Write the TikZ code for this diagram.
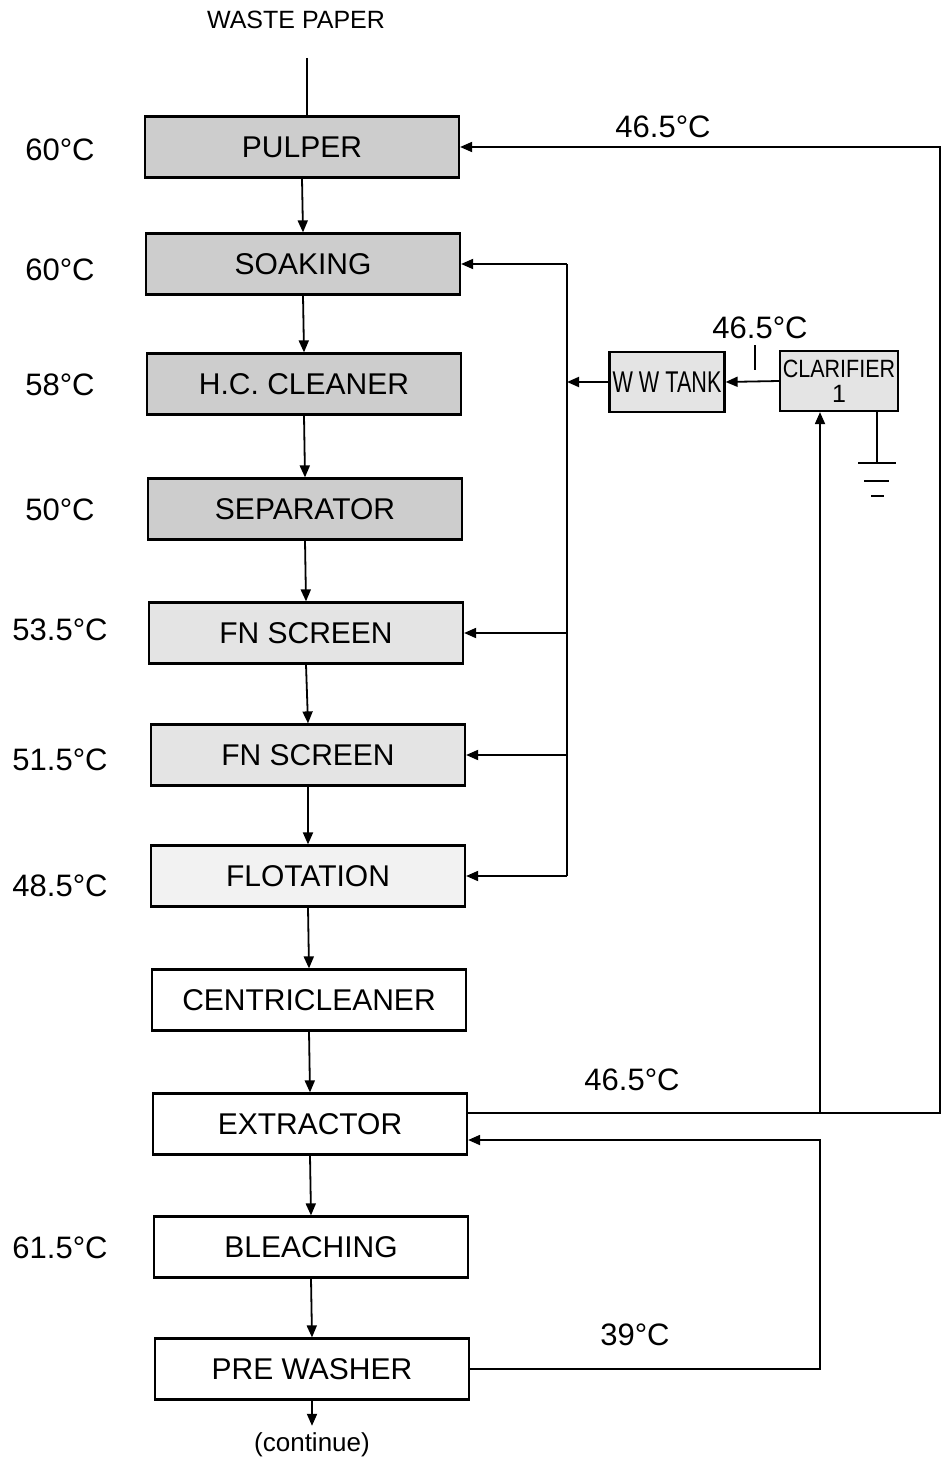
\documentclass[tikz,border=0pt]{standalone}
\usepackage{fontspec}
\setmainfont{Liberation Sans}
\usepackage{graphicx}
\usepackage{tikz}
\usetikzlibrary{arrows.meta, positioning}
\definecolor{dotgray}{RGB}{205,205,205}
\definecolor{lightdot}{RGB}{228,228,228}
\definecolor{faintdot}{RGB}{242,242,242}

\begin{document}
\begin{tikzpicture}[x=0.5pt, y=-0.5pt,
    proc/.style={draw, line width=1.1pt, minimum width=157pt, minimum height=30.5pt,
                 inner sep=0pt, font=\fontsize{15}{17}\selectfont},
    unit/.style={draw, line width=1.1pt, fill=lightdot, inner sep=0pt, minimum height=30pt},
    temp/.style={font=\fontsize{15.5}{17}\selectfont},
    flow/.style={line width=0.9pt, -{Triangle[length=6pt, width=5pt]}},
    pipe/.style={line width=0.9pt}]
  \useasboundingbox (0,0) rectangle (943,1466);

  % main line
  \foreach \n/\x/\y/\t/\f in {pulper/302/147/PULPER/dotgray,
                              soaking/303/264/SOAKING/dotgray,
                              hccleaner/304/384/H.C. CLEANER/dotgray,
                              separator/305/509/SEPARATOR/dotgray,
                              fnscreenA/306/633/FN SCREEN/lightdot,
                              fnscreenB/308/755/FN SCREEN/lightdot,
                              flotation/308/876/FLOTATION/faintdot,
                              centri/309/1000/CENTRICLEANER/white,
                              extractor/310/1124/EXTRACTOR/white,
                              bleaching/311/1247/BLEACHING/white,
                              prewasher/312/1369/PRE WASHER/white} {
    \node[proc, fill=\f] (\n) at (\x,\y) {\t};
  }

  % temperatures beside the units
  \foreach \y/\l in {150/60°C, 270/60°C, 385/58°C, 510/50°C, 630/53.5°C,
                     760/51.5°C, 886/48.5°C, 1248/61.5°C} {
    \node[temp] at (60,\y) {\l};
  }

  \node[font=\fontsize{12.5}{14}\selectfont] (waste) at (296,20) {WASTE PAPER};
  \coordinate (wastein) at (307,58);
  \draw[pipe] (wastein) -- (pulper.north -| wastein);

  \foreach \a/\b in {pulper/soaking, soaking/hccleaner, hccleaner/separator,
                     separator/fnscreenA, fnscreenA/fnscreenB, fnscreenB/flotation,
                     flotation/centri, centri/extractor, extractor/bleaching,
                     bleaching/prewasher} {
    \draw[flow] (\a.south) -- (\b.north);
  }

  \node[font=\fontsize{13}{15}\selectfont] (cont) at (312,1445) {(continue)};
  \draw[flow] (prewasher.south) -- (cont.north);

  % white water loop
  \node[unit, minimum width=57.5pt, font=\fontsize{15}{15}\selectfont] (wwtank) at (667,382)
    {\scalebox{0.72}[1]{W W TANK}};
  \node[unit, minimum width=59pt, align=center, font=\fontsize{12.5}{12.5}\selectfont] (clarifier) at (839,381)
    {\scalebox{0.86}[1]{CLARIFIER}\\1};
  \draw[flow] (clarifier.west) -- (wwtank.east);
  \draw[pipe] (755,345) -- (755,370);
  \node[temp] at (760,328) {46.5°C};

  \coordinate (hdr) at (567,382);
  \draw[flow] (wwtank.west) -- (hdr);
  \draw[pipe] (soaking.east -| hdr) -- (flotation.east -| hdr);
  \foreach \n in {soaking, fnscreenA, fnscreenB, flotation}
    \draw[flow] (\n.east -| hdr) -- (\n.east);

  % sludge to ground
  \coordinate (gnd) at (877,463);
  \draw[pipe] (clarifier.south -| gnd) -- (gnd);
  \draw[pipe] (858,463) -- (896,463);
  \draw[pipe] (864,481) -- (889,481);
  \draw[pipe] (871,496) -- (884,496);

  % extractor filtrate
  \coordinate (rbot) at (940,1113);
  \coordinate (rtop) at (940,147);
  \coordinate (cjoin) at (820,1113);
  \draw[flow] (extractor.east |- rbot) -- (rbot) -- (rtop) -- (pulper.east);
  \draw[flow] (cjoin) -- (clarifier.south -| cjoin);
  \node[temp] at (663,127) {46.5°C};
  \node[temp] at (632,1080) {46.5°C};

  % pre washer filtrate
  \coordinate (rc) at (820,1140);
  \draw[flow] (prewasher.east) -- (prewasher.east -| rc) -- (rc) -- (extractor.east |- rc);
  \node[temp] at (635,1335) {39°C};
\end{tikzpicture}
\end{document}
